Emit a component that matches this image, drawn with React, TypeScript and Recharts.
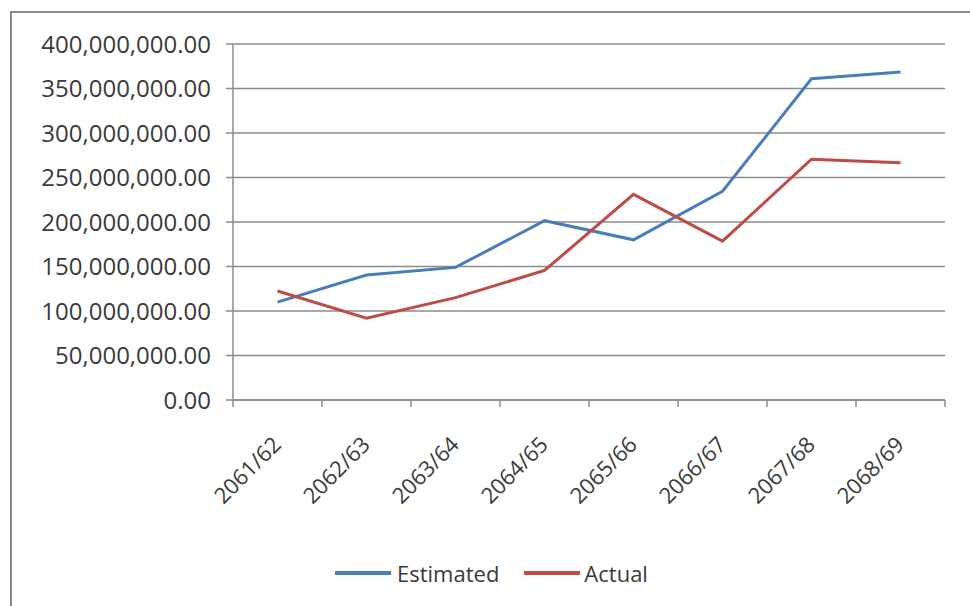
import React from "react";
import { LineChart, Line, XAxis, YAxis, CartesianGrid, Legend } from "recharts";

const categories = ["2061/62", "2062/63", "2063/64", "2064/65", "2065/66", "2066/67", "2067/68", "2068/69"];
const estimated = [110000000, 140500000, 149000000, 201500000, 180000000, 234500000, 361000000, 368500000];
const actual = [122500000, 92000000, 115000000, 145500000, 231000000, 178500000, 270500000, 266500000];
const yTicks = [0, 50000000, 100000000, 150000000, 200000000, 250000000, 300000000, 350000000, 400000000];

const data = categories.map((c, i) => ({ x: i + 0.5, cat: c, Estimated: estimated[i], Actual: actual[i] }));
const xTicks: number[] = [];
for (let i = 0; i <= categories.length; i++) {
  xTicks.push(i);
  if (i < categories.length) xTicks.push(i + 0.5);
}

const FONT = "'Open Sans', sans-serif";
const TEXT = "#3a3a3a";
const BLUE = "#4a7ebb";
const RED = "#be4b48";
const AXIS = "#8c8c8c";

const fmt = (v: number) =>
  v.toLocaleString("en-US", { minimumFractionDigits: 2, maximumFractionDigits: 2 });

const XTick = (props: any) => {
  const { x, y, payload } = props;
  const v = payload.value as number;
  if (Number.isInteger(v)) {
    return <line x1={x} y1={y} x2={x} y2={y + 7} stroke={AXIS} strokeWidth={1.5} />;
  }
  const label = categories[Math.floor(v)];
  return (
    <text
      x={x + 5}
      y={y + 46}
      transform={`rotate(-45 ${x + 5} ${y + 46})`}
      textAnchor="end"
      fontFamily={FONT}
      fontSize={22}
      fill={TEXT}
    >
      {label}
    </text>
  );
};

const LegendContent = () => (
  <div
    style={{
      height: 40,
      display: "flex",
      alignItems: "center",
      paddingLeft: 335,
      fontFamily: FONT,
      fontSize: 22,
      color: TEXT,
    }}
  >
    <div style={{ width: 56, height: 4, background: BLUE }} />
    <span style={{ marginLeft: 6 }}>Estimated</span>
    <div style={{ width: 56, height: 4, background: RED, marginLeft: 25 }} />
    <span style={{ marginLeft: 4 }}>Actual</span>
  </div>
);

export default function App() {
  return (
    <div style={{ position: "absolute", left: 0, top: 0, width: 970, height: 606, background: "#fff", overflow: "hidden" }}>
      <div
        style={{
          position: "absolute",
          left: 10,
          top: 11,
          width: 980,
          height: 620,
          border: "2px solid #8a8a8a",
          boxSizing: "border-box",
        }}
      />
      <LineChart
        width={970}
        height={606}
        data={data}
        margin={{ top: 44, right: 25, bottom: 13, left: 0 }}
        style={{ position: "absolute", left: 0, top: 0 }}
      >
        <CartesianGrid horizontal vertical={false} stroke={AXIS} strokeWidth={1.5} />
        <XAxis
          dataKey="x"
          type="number"
          domain={[0, categories.length]}
          ticks={xTicks}
          interval={0}
          tick={<XTick />}
          tickLine={false}
          tickSize={0}
          tickMargin={0}
          height={153}
          stroke={AXIS}
          strokeWidth={1.5}
          allowDecimals
        />
        <YAxis
          type="number"
          domain={[0, 400000000]}
          ticks={yTicks}
          interval={0}
          tickFormatter={fmt}
          width={233}
          tickSize={7}
          tickMargin={15}
          stroke={AXIS}
          strokeWidth={1.5}
          tick={{ fontFamily: FONT, fontSize: 24, fill: TEXT }}
        />
        <Legend verticalAlign="bottom" content={<LegendContent />} />
        <Line type="linear" dataKey="Estimated" stroke={BLUE} strokeWidth={3} dot={false} isAnimationActive={false} />
        <Line type="linear" dataKey="Actual" stroke={RED} strokeWidth={3} dot={false} isAnimationActive={false} />
      </LineChart>
    </div>
  );
}
